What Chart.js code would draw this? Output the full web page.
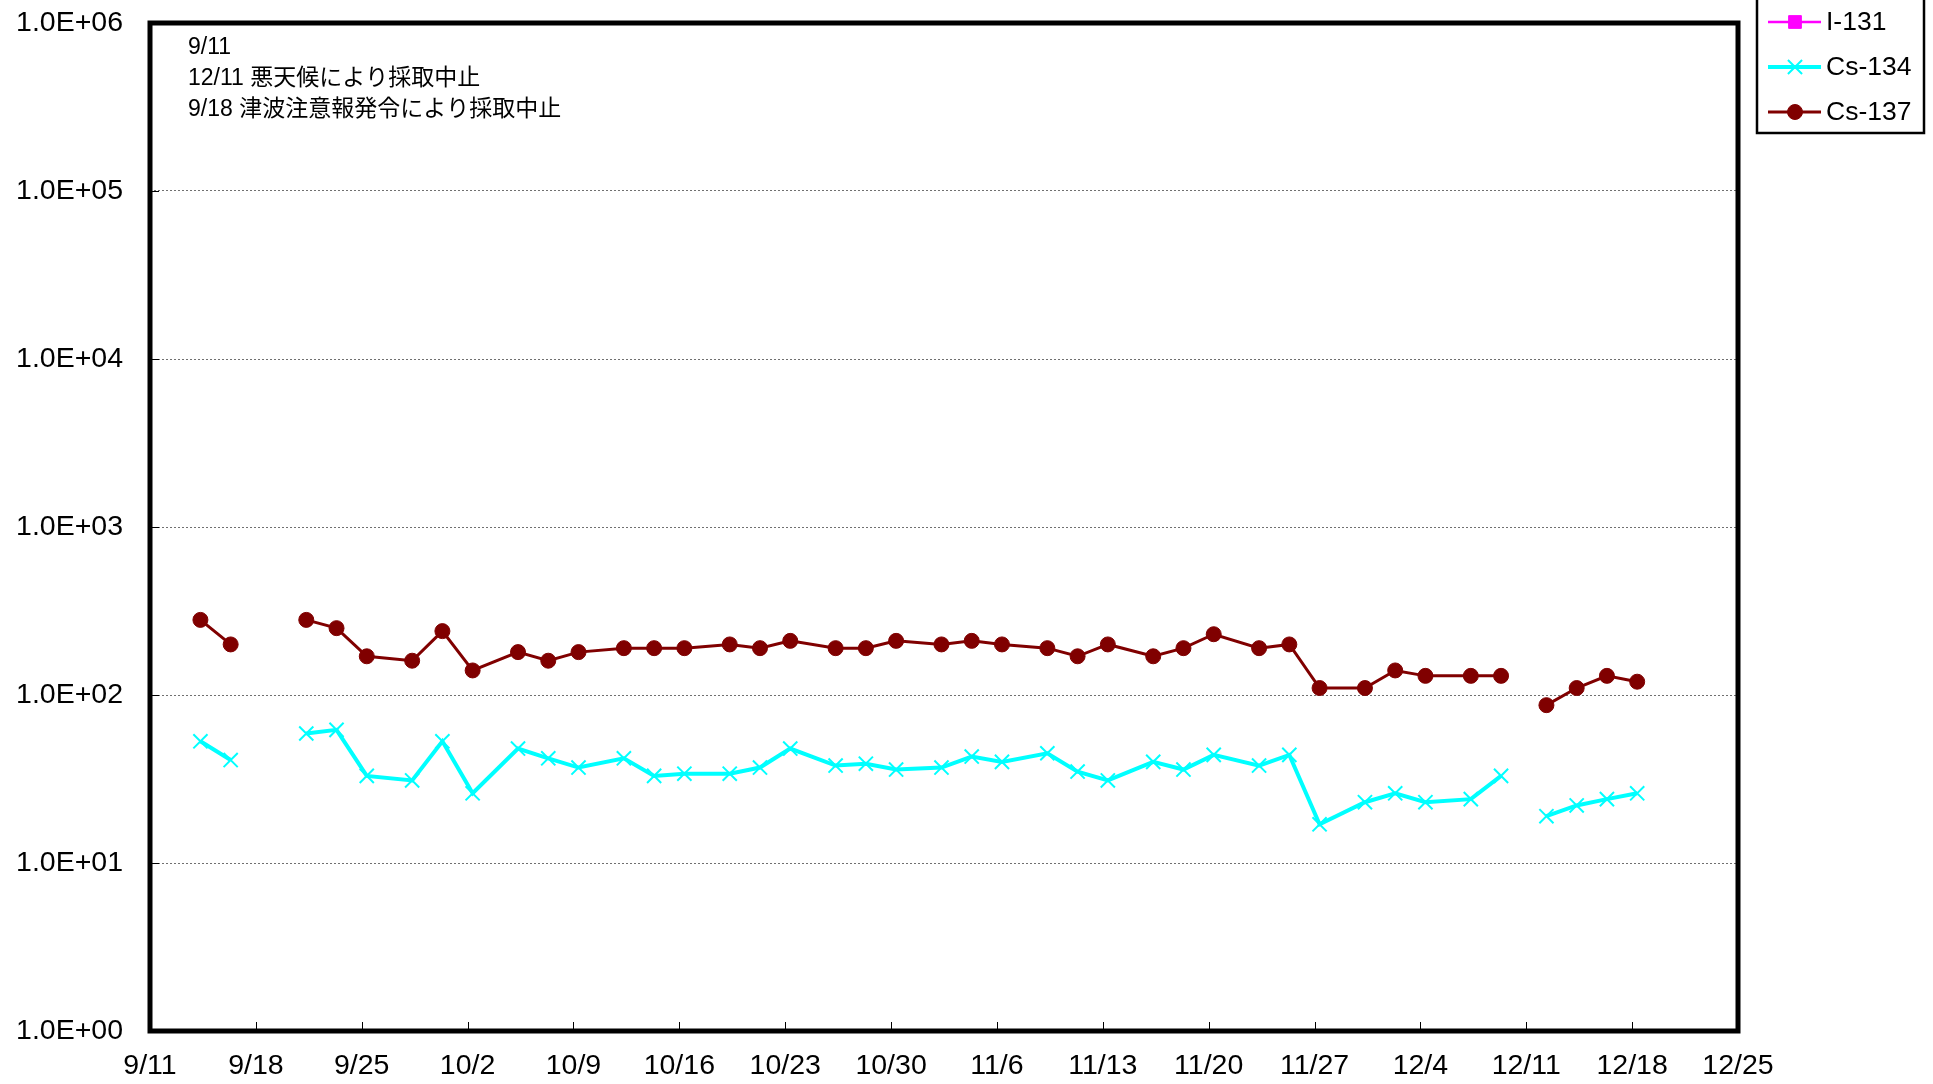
<!DOCTYPE html>
<html>
<head>
<meta charset="utf-8">
<script src="https://cdn.jsdelivr.net/npm/chart.js@4.4.1/dist/chart.umd.min.js"></script>
<style>
  html, body { margin: 0; padding: 0; background: #fff; }
  canvas { display: block; }
</style>
</head>
<body>
<canvas id="chart" width="1933" height="1084"></canvas>
<script>
const FONT = '"Liberation Sans", Arial, "Noto Sans CJK JP", sans-serif';

// sampling dates (month/day), 9/18 and 12/11 were cancelled -> null
const sampleDates = ['9/14','9/16','9/18','9/21','9/23','9/25','9/28','9/30','10/2','10/5','10/7','10/9',
  '10/12','10/14','10/16','10/19','10/21','10/23','10/26','10/28','10/30','11/2','11/4','11/6',
  '11/9','11/11','11/13','11/16','11/18','11/20','11/23','11/25','11/27','11/30','12/2','12/4',
  '12/7','12/9','12/11','12/12','12/14','12/16','12/18'];

const i131 = []; // not detected
const cs134 = [53, 41, null, 59, 62, 33, 31, 53, 26, 48, 42, 37,
  42, 33, 34, 34, 37, 48, 38, 39, 36, 37, 43, 40,
  45, 35, 31, 40, 36, 44, 38, 44, 17, 23, 26, 23,
  24, 33, null, 19, 22, 24, 26];
const cs137 = [280, 200, null, 280, 250, 170, 160, 240, 140, 180, 160, 180,
  190, 190, 190, 200, 190, 210, 190, 190, 210, 200, 210, 200,
  190, 170, 200, 170, 190, 230, 190, 200, 110, 110, 140, 130,
  130, 130, null, 87, 110, 130, 120];

const xTickLabels = ['9/11','9/18','9/25','10/2','10/9','10/16','10/23','10/30','11/6',
  '11/13','11/20','11/27','12/4','12/11','12/18','12/25'];
const yTickValues = [1, 10, 100, 1000, 10000, 100000, 1000000];
const notes = ['9/11', '12/11 悪天候により採取中止', '9/18 津波注意報発令により採取中止'];

const YEAR = 2015, SAMPLE_HOUR = 8;
function dayOf(md, hour) {
  const [m, d] = md.split('/').map(Number);
  return (Date.UTC(YEAR, m - 1, d) - Date.UTC(YEAR, 8, 11)) / 86400000 + (hour || 0) / 24;
}
function toPoints(vals) {
  return vals.map((v, i) => ({ x: dayOf(sampleDates[i], SAMPLE_HOUR), y: v }));
}
function expLabel(v) {
  const e = Math.round(Math.log10(v));
  return '1.0E' + (e < 0 ? '-' : '+') + String(Math.abs(e)).padStart(2, '0');
}

const framePlugin = {
  id: 'frame',
  afterDraw(chart) {
    const ctx = chart.ctx, a = chart.chartArea;
    const xs = chart.scales.x, ys = chart.scales.y;
    ctx.save();
    ctx.strokeStyle = '#000';
    ctx.lineWidth = 1;
    ctx.beginPath();
    xs.ticks.forEach(t => {
      const px = Math.round(xs.getPixelForValue(t.value)) + 0.5;
      ctx.moveTo(px, a.bottom); ctx.lineTo(px, a.bottom - 9);
    });
    ys.ticks.forEach(t => {
      const py = Math.round(ys.getPixelForValue(t.value)) + 0.5;
      ctx.moveTo(a.left, py); ctx.lineTo(a.left + 9, py);
    });
    ctx.stroke();

    ctx.lineWidth = 5;
    ctx.strokeRect(a.left, a.top, a.right - a.left, a.bottom - a.top);

    // notes in the upper left
    ctx.fillStyle = '#000';
    ctx.font = '23px ' + FONT;
    ctx.textBaseline = 'middle';
    notes.forEach((n, i) => ctx.fillText(n, a.left + 38, a.top + 25 + i * 31));

    // legend box
    const lx = a.right + 19, lw = 167;
    ctx.lineWidth = 2.5;
    ctx.strokeRect(lx, -3, lw, 136);
    ctx.font = '26.5px ' + FONT;
    chart.data.datasets.forEach((ds, i) => {
      const y = 22 + i * 45;
      ctx.strokeStyle = ds.borderColor;
      ctx.lineWidth = ds.borderWidth;
      ctx.beginPath();
      ctx.moveTo(lx + 11, y); ctx.lineTo(lx + 64, y);
      ctx.stroke();
      ctx.fillStyle = ds.pointBackgroundColor;
      ctx.strokeStyle = ds.borderColor;
      ctx.lineWidth = ds.pointBorderWidth;
      Chart.helpers.drawPoint(ctx, { pointStyle: ds.pointStyle, radius: ds.pointRadius, borderWidth: ds.pointBorderWidth, rotation: 0 }, lx + 38, y);
      ctx.fillStyle = '#000';
      ctx.fillText(ds.label, lx + 69, y + 1);
    });
    ctx.restore();
  }
};

new Chart(document.getElementById('chart'), {
  type: 'line',
  data: {
    datasets: [
      { label: 'I-131', data: toPoints(i131), borderColor: '#FF00FF', backgroundColor: '#FF00FF',
        pointBackgroundColor: '#FF00FF', pointStyle: 'rect', pointRadius: 9, pointBorderWidth: 1, borderWidth: 2.5 },
      { label: 'Cs-134', data: toPoints(cs134), borderColor: '#00FFFF', backgroundColor: '#00FFFF',
        pointBackgroundColor: '#00FFFF', pointStyle: 'crossRot', pointRadius: 10, pointBorderWidth: 2, borderWidth: 4 },
      { label: 'Cs-137', data: toPoints(cs137), borderColor: '#800000', backgroundColor: '#800000',
        pointBackgroundColor: '#800000', pointStyle: 'circle', pointRadius: 7.5, pointBorderWidth: 1, borderWidth: 3 }
    ]
  },
  options: {
    responsive: false,
    animation: false,
    devicePixelRatio: 1,
    events: [],
    spanGaps: false,
    layout: { padding: { left: 0, top: 23, right: 195, bottom: 0 } },
    plugins: { legend: { display: false }, tooltip: { enabled: false } },
    scales: {
      x: {
        type: 'linear',
        min: dayOf(xTickLabels[0]),
        max: dayOf(xTickLabels[xTickLabels.length - 1]),
        afterBuildTicks: s => { s.ticks = xTickLabels.map(l => ({ value: dayOf(l) })); },
        afterFit: s => { s.height = 53; s.paddingLeft = 0; s.paddingRight = 0; },
        grid: { display: false },
        border: { display: false },
        ticks: {
          autoSkip: false, maxRotation: 0, padding: 10, color: '#000',
          font: { family: FONT, size: 28.5 },
          callback: (v, i) => xTickLabels[i]
        }
      },
      y: {
        type: 'logarithmic',
        min: yTickValues[0],
        max: yTickValues[yTickValues.length - 1],
        afterBuildTicks: s => { s.ticks = yTickValues.map(v => ({ value: v })); },
        afterFit: s => { s.width = 150; s.paddingTop = 0; s.paddingBottom = 0; },
        grid: { color: '#707070', lineWidth: 1, drawTicks: false },
        border: { display: false, dash: [2, 2] },
        ticks: {
          padding: 27, color: '#000',
          font: { family: FONT, size: 28.5 },
          callback: v => expLabel(v)
        }
      }
    }
  },
  plugins: [framePlugin]
});
</script>
</body>
</html>
